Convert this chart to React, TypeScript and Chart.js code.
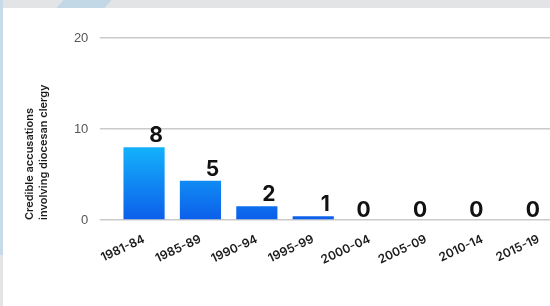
import React, { useEffect, useRef } from "react";
import { Chart, registerables } from "chart.js";

Chart.register(...registerables);

const categories = ["1981-84", "1985-89", "1990-94", "1995-99", "2000-04", "2005-09", "2010-14", "2015-19"];
const barValues = [8, 4.3, 1.5, 0.4, 0, 0, 0, 0];
const labelValues = [8, 5, 2, 1, 0, 0, 0, 0];
const yMin = 0;
const yMax = 20;
const yStep = 10;
const yTitle = ["Credible accusations", "involving diocesan clergy"];

const valueLabelPlugin = {
  id: "valueLabels",
  afterDatasetsDraw(chart: any) {
    const ctx = chart.ctx;
    const meta = chart.getDatasetMeta(0);
    ctx.save();
    ctx.font = "700 21px Inter, 'Noto Sans', sans-serif";
    ctx.fillStyle = "#111111";
    ctx.textAlign = "center";
    ctx.textBaseline = "alphabetic";
    meta.data.forEach((el: any, i: number) => {
      const shift = barValues[i] > 0 ? 12 : -6;
      const gap = barValues[i] > 0 ? 5 : 3;
      ctx.fillText(String(labelValues[i]), el.x + shift, el.y - gap);
    });
    ctx.restore();
  },
};

export default function App() {
  const ref = useRef<HTMLCanvasElement | null>(null);

  useEffect(() => {
    if (!ref.current) return;
    const chart = new Chart(ref.current, {
      type: "bar",
      data: {
        labels: categories,
        datasets: [
          {
            data: barValues,
            backgroundColor: (c: any) => {
              const ch = c.chart;
              if (!ch.chartArea || !ch.scales.y) return "#1478ee";
              const y = ch.scales.y;
              const g = ch.ctx.createLinearGradient(0, y.getPixelForValue(8), 0, y.getPixelForValue(0));
              g.addColorStop(0, "#14b2fb");
              g.addColorStop(1, "#0c5eea");
              return g;
            },
            borderWidth: 0,
            barPercentage: 0.73,
            categoryPercentage: 1,
          },
        ],
      },
      options: {
        responsive: false,
        animation: false,
        maintainAspectRatio: false,
        layout: { padding: { top: 38, left: 0, right: 0, bottom: 0 } },
        plugins: {
          legend: { display: false },
          tooltip: { enabled: false },
        },
        scales: {
          x: {
            grid: { display: false },
            border: { display: false },
            ticks: {
              autoSkip: false,
              minRotation: 25,
              maxRotation: 25,
              color: "#1a1a1a",
              padding: 4,
              font: { family: "Inter, 'Noto Sans', sans-serif", size: 12, weight: "600" },
            },
            afterFit: (s: any) => {
              s.height = 86;
            },
          },
          y: {
            min: yMin,
            max: yMax,
            border: { display: false },
            grid: {
              color: "#cacaca",
              lineWidth: 1.5,
              tickLength: 16,
              tickColor: "#cacaca",
              tickWidth: 1.5,
            },
            ticks: {
              stepSize: yStep,
              padding: 11.5,
              color: "#555555",
              font: { family: "'Liberation Sans', Arial, sans-serif", size: 13 },
            },
            title: {
              display: true,
              text: yTitle,
              align: "start",
              color: "#1a1a1a",
              padding: { top: 23, bottom: 0 },
              font: { family: "Inter, 'Noto Sans', sans-serif", size: 11, weight: "600", lineHeight: 1.25 },
            },
            afterFit: (s: any) => {
              s.width = 115.85;
            },
          },
        },
      },
      plugins: [valueLabelPlugin],
    } as any);
    return () => chart.destroy();
  }, []);

  return (
    <div
      style={{
        position: "absolute",
        left: 0,
        top: 0,
        width: 550,
        height: 306,
        overflow: "hidden",
        background: "#e3e4e6",
      }}
    >
      <div style={{ position: "absolute", left: 0, top: 0, width: 3, height: 255, background: "#c6dae7" }} />
      <div
        style={{
          position: "absolute",
          left: 60,
          top: 0,
          width: 48,
          height: 8,
          background: "#c2d8e6",
          transform: "skewX(-40deg)",
        }}
      />
      <div
        style={{
          position: "absolute",
          left: 3,
          top: 8,
          width: 547,
          height: 298,
          background: "#ffffff",
        }}
      />
      <canvas
        ref={ref}
        width={567}
        height={306}
        style={{ position: "absolute", left: 0, top: 0, width: 567, height: 306 }}
      />
    </div>
  );
}
